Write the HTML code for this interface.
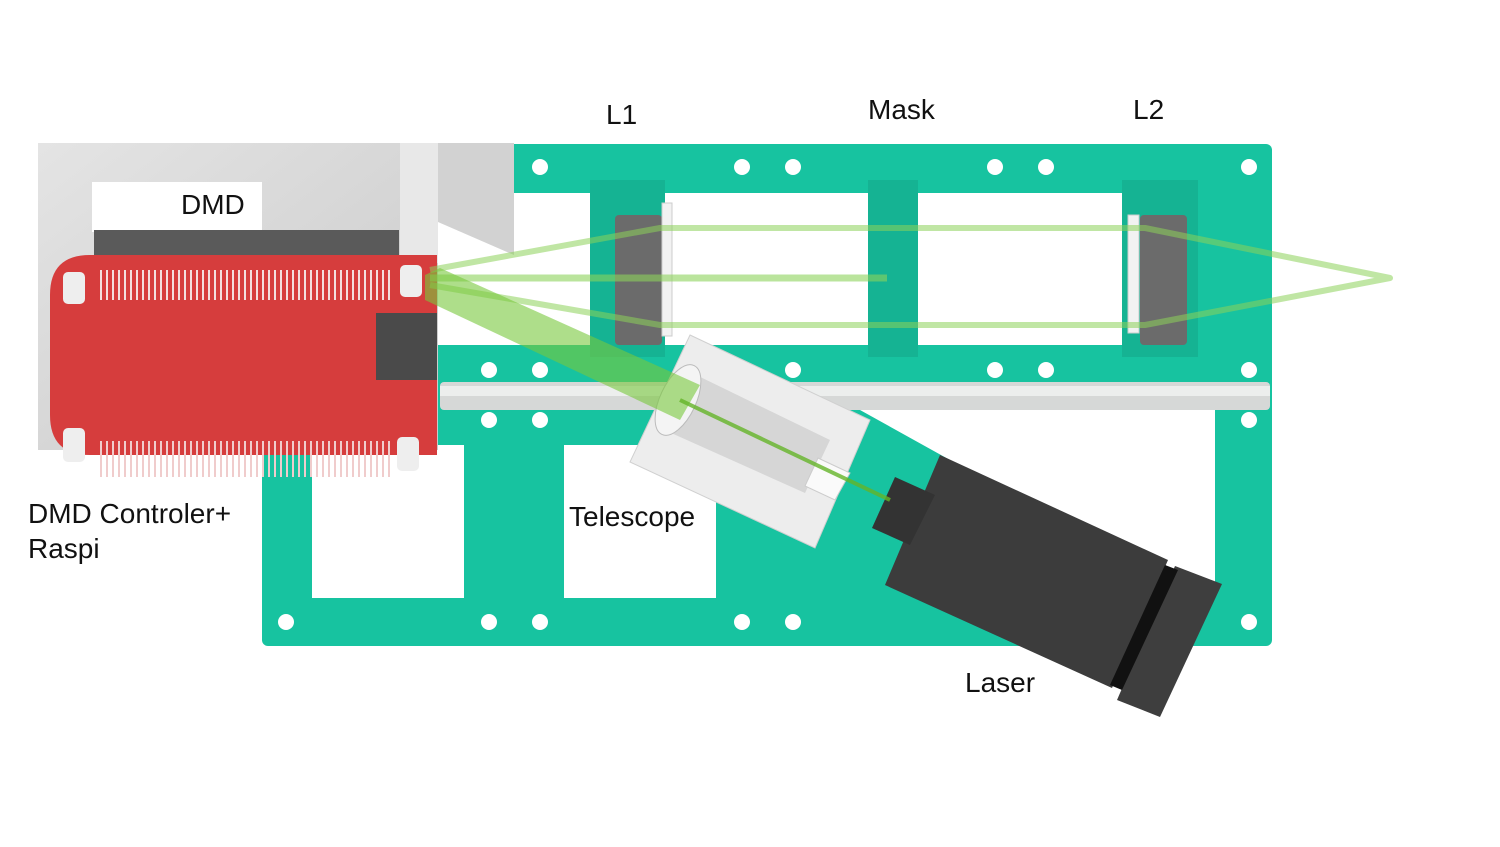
<!DOCTYPE html>
<html><head><meta charset="utf-8"><style>
html,body{margin:0;padding:0;background:#fff;}
svg{display:block;}
text{font-family:"Liberation Sans",sans-serif;font-size:28px;fill:#111;}
</style></head><body>
<svg width="1500" height="847" viewBox="0 0 1500 847">
<defs>
<linearGradient id="grey" x1="0" y1="0" x2="1" y2="1"><stop offset="0" stop-color="#e4e4e4"/><stop offset="1" stop-color="#c9c9c9"/></linearGradient>
</defs>
<g>
  <rect x="262" y="144" width="1010" height="502" rx="6" fill="#17c3a0"/>
  <rect x="438" y="193" width="684" height="152" fill="#fff"/>
  <rect x="312" y="445" width="152" height="153" fill="#fff"/>
  <rect x="564" y="445" width="152" height="153" fill="#fff"/>
  <polygon points="860,410 1215,410 1215,590 1175,590 950,460" fill="#fff"/>
  <rect x="590" y="180" width="75" height="177" fill="#15b393"/>
  <rect x="868" y="180" width="50" height="177" fill="#15b393"/>
  <rect x="1122" y="180" width="76" height="177" fill="#15b393"/>
  <rect x="440" y="382" width="830" height="28" rx="4" fill="#d6d8d7"/>
  <rect x="440" y="386" width="830" height="10" fill="#eceeed"/>
</g>
<g fill="#fff">
  <circle cx="286" cy="167" r="8"/><circle cx="489" cy="167" r="8"/><circle cx="540" cy="167" r="8"/>
  <circle cx="742" cy="167" r="8"/><circle cx="793" cy="167" r="8"/><circle cx="995" cy="167" r="8"/>
  <circle cx="1046" cy="167" r="8"/><circle cx="1249" cy="167" r="8"/>
  <circle cx="489" cy="370" r="8"/><circle cx="540" cy="370" r="8"/><circle cx="793" cy="370" r="8"/>
  <circle cx="995" cy="370" r="8"/><circle cx="1046" cy="370" r="8"/><circle cx="1249" cy="370" r="8"/>
  <circle cx="489" cy="420" r="8"/><circle cx="540" cy="420" r="8"/><circle cx="1249" cy="420" r="8"/>
  <circle cx="286" cy="622" r="8"/><circle cx="489" cy="622" r="8"/><circle cx="540" cy="622" r="8"/>
  <circle cx="742" cy="622" r="8"/><circle cx="793" cy="622" r="8"/><circle cx="1249" cy="622" r="8"/>
</g>
<g>
  <rect x="38" y="143" width="400" height="307" fill="url(#grey)"/>
  <polygon points="438,143 514,143 514,255 438,222" fill="#d2d2d2"/>
  <rect x="92" y="182" width="170" height="50" fill="#fff"/>
  <rect x="94" y="230" width="305" height="28" fill="#5a5a5a"/>
  <rect x="400" y="143" width="38" height="120" fill="#e8e8e8"/>
</g>
<g>
  <rect x="615" y="215" width="47" height="130" rx="4" fill="#6b6b6b"/>
  <rect x="662" y="203" width="10" height="133" fill="#f2f2f2" stroke="#ccc"/>
</g>
<g>
  <rect x="1140" y="215" width="47" height="130" rx="4" fill="#6b6b6b"/>
  <rect x="1128" y="215" width="11" height="118" fill="#f2f2f2" stroke="#ccc"/>
</g>
<g>
  <polygon points="940,455 1168,560 1112,688 885,585" fill="#3c3c3c"/>
  <polygon points="1175,566 1222,584 1160,717 1117,700" fill="#3e3e3e"/>
  <polygon points="1165,565 1178,570 1122,690 1110,685" fill="#111"/>
  <polygon points="895,477 935,495 910,545 872,528" fill="#333"/>
</g>
<g>
  <polygon points="690,335 870,420 815,548 630,462" fill="#ededed" stroke="#d0d0d0"/>
  <polygon points="690,372 830,440 805,493 660,428" fill="#d6d6d6"/>
  <ellipse cx="678" cy="400" rx="18" ry="38" transform="rotate(25 678 400)" fill="#f4f4f4" stroke="#bbb"/>
  <polygon points="818,458 850,473 835,500 805,486" fill="#fafafa" stroke="#ccc"/>
</g>
<g>
  <path d="M90,255 H437 V313 H376 V380 H437 V455 H90 Q50,455 50,415 V295 Q50,255 90,255 Z" fill="#d63d3d"/>
  <rect x="376" y="313" width="61" height="67" fill="#4a4a4a"/>
  <line x1="100" y1="285" x2="392" y2="285" stroke-dasharray="2 4" stroke-width="30" stroke="#f4dede"/>
  <line x1="100" y1="459" x2="392" y2="459" stroke-dasharray="2 4" stroke-width="36" stroke="#f0cccc"/>
  <rect x="63" y="272" width="22" height="32" rx="5" fill="#eee"/>
  <rect x="400" y="265" width="22" height="32" rx="5" fill="#eee"/>
  <rect x="63" y="428" width="22" height="34" rx="5" fill="#eee"/>
  <rect x="397" y="437" width="22" height="34" rx="5" fill="#eee"/>
</g>
<g fill="none" stroke-linejoin="round">
  <polyline points="430,270 660,228 1145,228 1390,278 1145,325 660,325 430,285" stroke="rgba(140,210,90,0.55)" stroke-width="6"/>
  <line x1="430" y1="278" x2="887" y2="278" stroke="rgba(140,210,90,0.6)" stroke-width="7"/>
  <polygon points="425,275 440,268 700,385 680,420 425,300" fill="rgba(120,200,60,0.6)" stroke="none"/>
  <line x1="680" y1="400" x2="890" y2="500" stroke="rgba(100,180,40,0.8)" stroke-width="4"/>
</g>
<g>
  <text x="606" y="124">L1</text>
  <text x="868" y="119">Mask</text>
  <text x="1133" y="119">L2</text>
  <text x="181" y="214">DMD</text>
  <text x="28" y="523">DMD Controler+</text>
  <text x="28" y="558">Raspi</text>
  <text x="569" y="526">Telescope</text>
  <text x="965" y="692">Laser</text>
</g>
</svg>
</body></html>
